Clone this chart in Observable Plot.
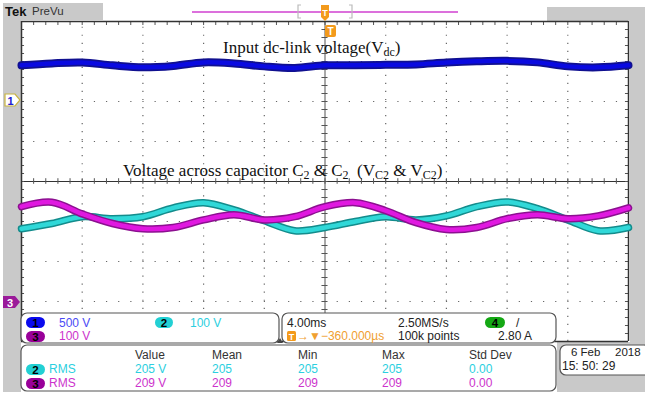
<!DOCTYPE html>
<html><head><meta charset="utf-8">
<script src="https://cdn.jsdelivr.net/npm/d3@7"></script>
<script src="https://cdn.jsdelivr.net/npm/@observablehq/plot@0.6"></script>
<style>body{margin:0;background:#fff} svg{display:block}</style>
</head><body><div id="chart"></div>
<script>
// ---- data ----
const timeMs = [0,2,4,6,8,10,12,14,16,18,20,22,24,26,28,30,32,34,36,38,40];
// Channel 1: input dc-link voltage (V), 500 V/div, ground at +2 div
const vdcVolts = [452,476,487,452,427,445,489,476,439,420,452,452,458,464,487,502,508,489,439,427,452];
// Channel 2 (cyan): capacitor voltage (V), 100 V/div, ground at -3 div
const vC2Cyan = [182,195,212,207,212,234,247,229,202,177,185,200,212,204,214,237,249,232,204,177,185];
// Channel 3 (magenta): capacitor voltage (V), 100 V/div, ground at -3 div
const vC2Magenta = [237,248,219,195,182,185,204,217,204,212,237,247,227,197,180,185,207,217,207,214,234];

const channelLabels = [{ch:"1", scale:"500 V"}, {ch:"2", scale:"100 V"}, {ch:"3", scale:"100 V"}];
const voltsPerDiv = {1:500, 2:100, 3:100};
const groundDiv = {1:2, 2:-3, 3:-3};
const measHeaders = ["Value","Mean","Min","Max","Std Dev"];
const measRows = [
  {ch:"2", name:"RMS", vals:["205 V","205","205","205","0.00"]},
  {ch:"3", name:"RMS", vals:["209 V","209","209","209","0.00"]}
];
const timebase = "4.00ms", trigPos = "\u2192\u25BC\u2212360.000\u00B5s", sampleRate = "2.50MS/s", recLen = "100k points", trigLevel = "2.80 A";
const dateText = ["6 Feb","2018","15: 50: 29"];

// ---- build ----
const toDiv = (ch, v) => groundDiv[ch] + v / voltsPerDiv[ch];
const dc = timeMs.map((t,i)=>({t, y: toDiv(1, vdcVolts[i])}));
const cy = timeMs.map((t,i)=>({t, y: toDiv(2, vC2Cyan[i])}));
const mg = timeMs.map((t,i)=>({t, y: toDiv(3, vC2Magenta[i])}));

const gridX = [4,8,12,16,24,28,32,36];
const gridY = [-3,-2,-1,1,2,3];
const fineX = d3.range(0, 40.001, 0.8);
const fineY = d3.range(-4, 4.001, 0.2);

const plot = Plot.plot({
  width: 645, height: 397, margin: 0,
  x: {domain:[0,40], range:[21,628], axis:null},
  y: {domain:[-4,4], range:[341,21], axis:null},
  marks: [
    Plot.ruleX(gridX, {y1:-4, y2:4, stroke:"#666", strokeWidth:1.2, strokeDasharray:"1.2,6.83"}),
    Plot.ruleY(gridY, {x1:0, x2:40, stroke:"#666", strokeWidth:1.2, strokeDasharray:"1.2,10.94"}),
    Plot.ruleX([20], {y1:-4, y2:4, stroke:"#555", strokeWidth:1}),
    Plot.ruleY([0], {x1:0, x2:40, stroke:"#333", strokeWidth:1}),
    Plot.ruleX(fineX, {y1:-0.07, y2:0.07, stroke:"#555"}),
    Plot.ruleY(fineY, {x1:19.8, x2:20.2, stroke:"#555"}),
    Plot.ruleX(fineX, {y1:3.9, y2:4, stroke:"#555"}),
    Plot.ruleY(fineY, {x1:0, x2:0.2, stroke:"#555"}),
    Plot.ruleY(fineY, {x1:39.8, x2:40, stroke:"#555"}),
    Plot.ruleX([0,40], {y1:-4, y2:4, stroke:"#333", strokeWidth:1.5}),
    Plot.ruleY([4,-4], {x1:0, x2:40, stroke:"#333", strokeWidth:1.5}),
    // traces
    Plot.line(dc, {x:"t", y:"y", stroke:"#101090", strokeWidth:8, curve:"catmull-rom"}),
    Plot.line(dc, {x:"t", y:"y", stroke:"#0a0ae0", strokeWidth:4.5, curve:"catmull-rom"}),
    Plot.line(cy, {x:"t", y:"y", stroke:"#138c8c", strokeWidth:7.5, curve:"catmull-rom"}),
    Plot.line(cy, {x:"t", y:"y", stroke:"#30d8d8", strokeWidth:4.5, curve:"catmull-rom"}),
    Plot.line(mg, {x:"t", y:"y", stroke:"#8c1090", strokeWidth:7.5, curve:"catmull-rom"}),
    Plot.line(mg, {x:"t", y:"y", stroke:"#e018e0", strokeWidth:4.5, curve:"catmull-rom"})
  ]
});
document.getElementById("chart").appendChild(plot);

const svg = d3.select(plot).attr("text-anchor","start");
const gray = "#c9c9c9";
const bg = svg.insert("g", ":first-child");
[[3,3,18,389],[3,3,100,17],[547,7,98,14],[630,7,15,385],[557,342,88,50]].forEach(([x,y,w,h])=>
  bg.append("rect").attr("x",x).attr("y",y).attr("width",w).attr("height",h).attr("fill",gray));

const sans = "'Liberation Sans', Arial, sans-serif";
const serif = "'Liberation Serif', 'Times New Roman', serif";
const txt = (x,y,s,opt={}) => svg.append("text").attr("x",x).attr("y",y).text(s)
  .attr("font-family", opt.family||sans).attr("font-size", opt.size||12)
  .attr("fill", opt.fill||"#222").attr("font-weight", opt.weight||"normal")
  .attr("text-anchor", opt.anchor||"start");

// top bar
txt(5,16,"Tek",{size:13,weight:"bold",fill:"#111"});
txt(32,15,"PreVu",{size:11.5,fill:"#333"});
svg.append("line").attr("x1",192).attr("x2",458).attr("y1",12).attr("y2",12).attr("stroke","#d040d0").attr("stroke-width",1.3);
svg.append("path").attr("d","M301,5 H298 V18 H301 M349,5 H352 V18 H349").attr("fill","none").attr("stroke","#bbb").attr("stroke-width",1.2);
svg.append("path").attr("d","M321,5 H329 V17 L325,21 L321,17 Z").attr("fill","#f39a1c");
txt(325,16,"T",{size:9,weight:"bold",fill:"#fff",anchor:"middle"});
svg.append("rect").attr("x",325).attr("y",25).attr("width",11).attr("height",12).attr("rx",2).attr("fill","#f39a1c");
txt(330.5,35,"T",{size:10,weight:"bold",fill:"#fff",anchor:"middle"});

// ground markers
svg.append("path").attr("d","M5,94 H15 L20,100 L15,106 H5 Z").attr("fill","#fff").attr("stroke","#c8b440").attr("stroke-width",1.2);
txt(10.5,104.5,"1",{size:11,fill:"#2020d0",anchor:"middle",weight:"bold"});
svg.append("path").attr("d","M3,296 H15 L20,302 L15,308 H3 Z").attr("fill","#9a1a9a");
txt(10,306.5,"3",{size:11,fill:"#fff",anchor:"middle",weight:"bold"});

// annotations
const t1 = svg.append("text").attr("x",223).attr("y",53).attr("text-anchor","start").attr("font-family",serif).attr("font-size",17).attr("fill","#111");
t1.append("tspan").text("Input dc-link voltage(V");
t1.append("tspan").text("dc").attr("font-size",12).attr("dy",3);
t1.append("tspan").text(")").attr("dy",-3);
const t2 = svg.append("text").attr("x",123).attr("y",176).attr("text-anchor","start").attr("font-family",serif).attr("font-size",17).attr("fill","#111");
t2.append("tspan").text("Voltage across capacitor C");
t2.append("tspan").text("2").attr("font-size",12).attr("dy",3);
t2.append("tspan").text(" & C").attr("dy",-3);
t2.append("tspan").text("2").attr("font-size",12).attr("dy",3);
t2.append("tspan").text("\u00A0\u00A0(V").attr("dy",-3);
t2.append("tspan").text("C2").attr("font-size",12).attr("dy",3);
t2.append("tspan").text(" & V").attr("dy",-3);
t2.append("tspan").text("C2").attr("font-size",12).attr("dy",3);
t2.append("tspan").text(")").attr("dy",-3);

// panels
const panel = (x,y,w,h) => svg.append("rect").attr("x",x).attr("y",y).attr("width",w).attr("height",h).attr("rx",6)
  .attr("fill","#fff").attr("stroke","#555").attr("stroke-width",1.2);
panel(21,313,258,30);
panel(282,313,274,30);
panel(21,345,535,46);
panel(560,345,90,30);
svg.append("path").attr("d","M277,343 L280,338 L283,343 Z").attr("fill","#444");

const pill = (x,y,w,fill,label,tc) => {
  svg.append("rect").attr("x",x).attr("y",y).attr("width",w).attr("height",11).attr("rx",5.5).attr("fill",fill);
  txt(x+w/2, y+9.5, label, {size:11.5, weight:"bold", fill:tc||"#000", anchor:"middle"});
};
const chColor = {"1":"#0a0aee","2":"#22d0d4","3":"#990099","4":"#14a814"};
const chText = {"1":"#4b4bf5","2":"#2ccfe0","3":"#cc33cc"};
// channel scale panel
pill(26,317,19,chColor["1"],"1");
txt(59,327,channelLabels[0].scale,{fill:chText["1"]});
pill(155,317,18,chColor["2"],"2");
txt(190,327,channelLabels[1].scale,{fill:chText["2"]});
pill(26,331,19,chColor["3"],"3");
txt(59,340,channelLabels[2].scale,{fill:chText["3"]});

// timebase panel
txt(287,327,timebase,{fill:"#222"});
svg.append("rect").attr("x",287).attr("y",331).attr("width",9).attr("height",10).attr("rx",1.5).attr("fill","#f39a1c");
txt(291.5,339.5,"T",{size:9,weight:"bold",fill:"#fff",anchor:"middle"});
txt(297,340,trigPos,{fill:"#f0a030",size:12});
txt(398,327,sampleRate,{fill:"#222"});
txt(398,340,recLen,{fill:"#222"});
pill(485,317,20,chColor["4"],"4");
txt(516,327,"/",{fill:"#222"});
txt(532,340,trigLevel,{fill:"#222",anchor:"end"});

// measurement panel
const colX = [135,212,298,382,469];
measHeaders.forEach((h,i)=>txt(colX[i],359,h,{fill:"#333"}));
measRows.forEach((r,j)=>{
  const y = 373 + j*14;
  pill(26,y-9,19,chColor[r.ch],r.ch);
  txt(49,y,r.name,{fill:chText[r.ch]});
  r.vals.forEach((v,i)=>txt(colX[i],y,v,{fill:chText[r.ch]}));
});

// date panel
txt(571,356,dateText[0],{fill:"#222",size:11.5});
txt(615,356,dateText[1],{fill:"#222",size:11.5});
txt(562,370,dateText[2],{fill:"#222"});
</script>
</body></html>
